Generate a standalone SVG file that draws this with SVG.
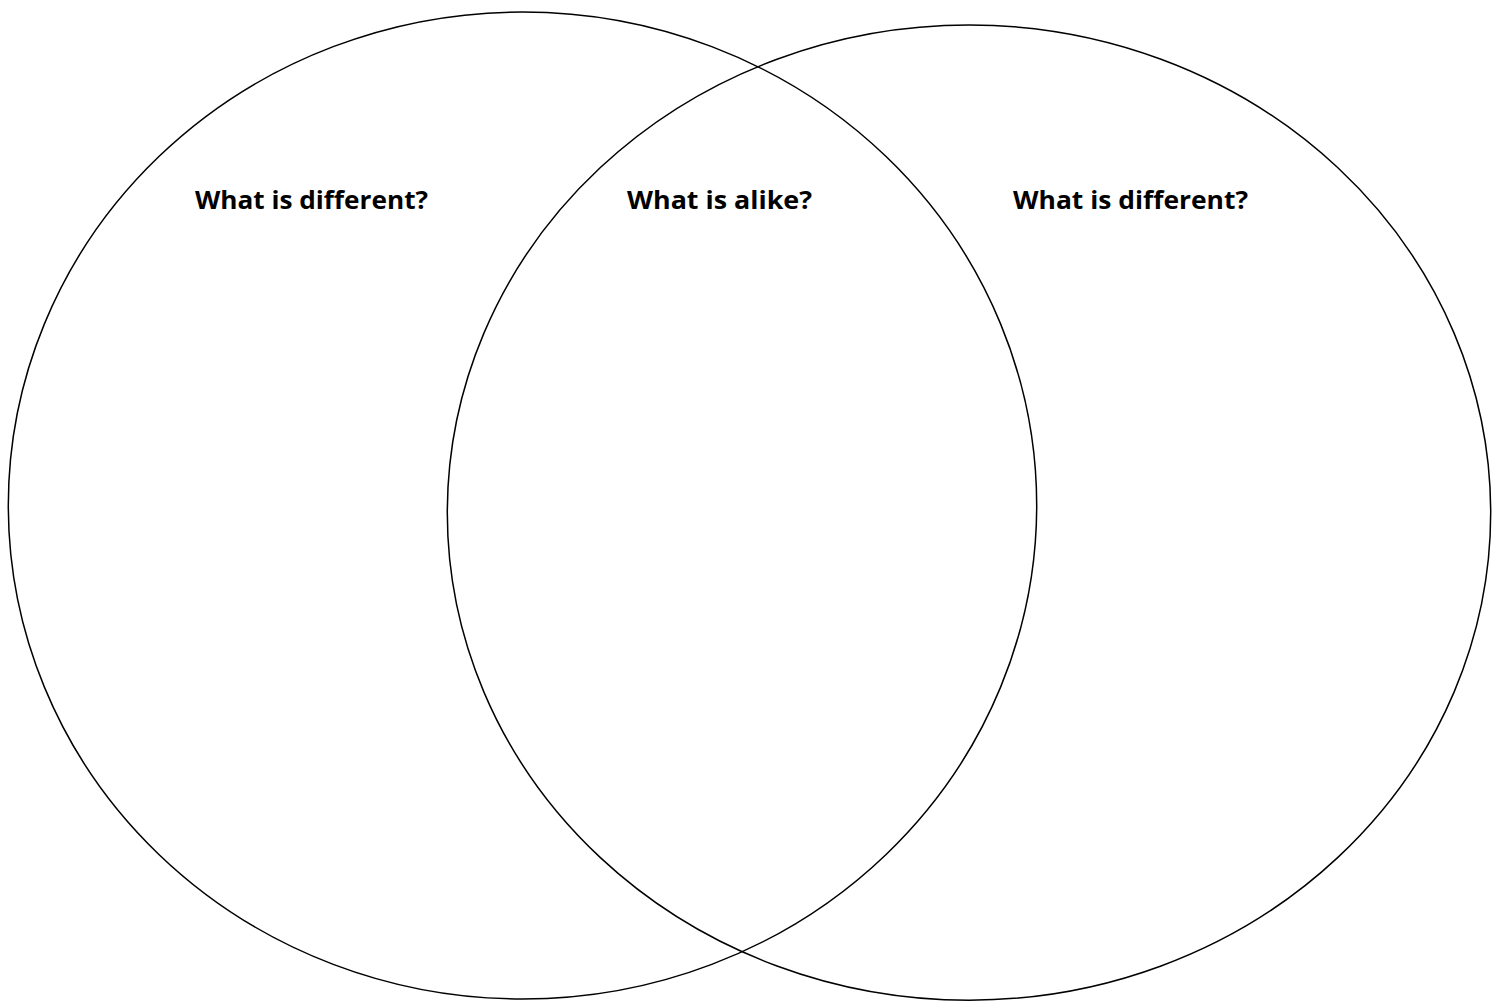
<svg xmlns="http://www.w3.org/2000/svg" width="1502" height="1001" viewBox="0 0 1502 1001">
<style>
.c{fill:none;stroke:#000;stroke-width:1.5}
.t{font-family:"Open Sans","Liberation Sans",sans-serif;font-weight:bold;font-size:25.5px;fill:#000}
</style>
<rect width="1502" height="1001" fill="#fff"/>
<g id="left-circle"><ellipse class="c" cx="522.5" cy="505.5" rx="514.2" ry="493.5"/></g>
<g id="right-circle"><ellipse class="c" cx="969" cy="512.6" rx="521.7" ry="487.6"/></g>
<g id="left-label"><text class="t" x="195" y="208.5" textLength="233" lengthAdjust="spacingAndGlyphs">What is different?</text></g>
<g id="middle-label"><text class="t" x="627" y="208.5" textLength="185" lengthAdjust="spacingAndGlyphs">What is alike?</text></g>
<g id="right-label"><text class="t" x="1013" y="208.5" textLength="235" lengthAdjust="spacingAndGlyphs">What is different?</text></g>
<g id="connectors"/>
</svg>
